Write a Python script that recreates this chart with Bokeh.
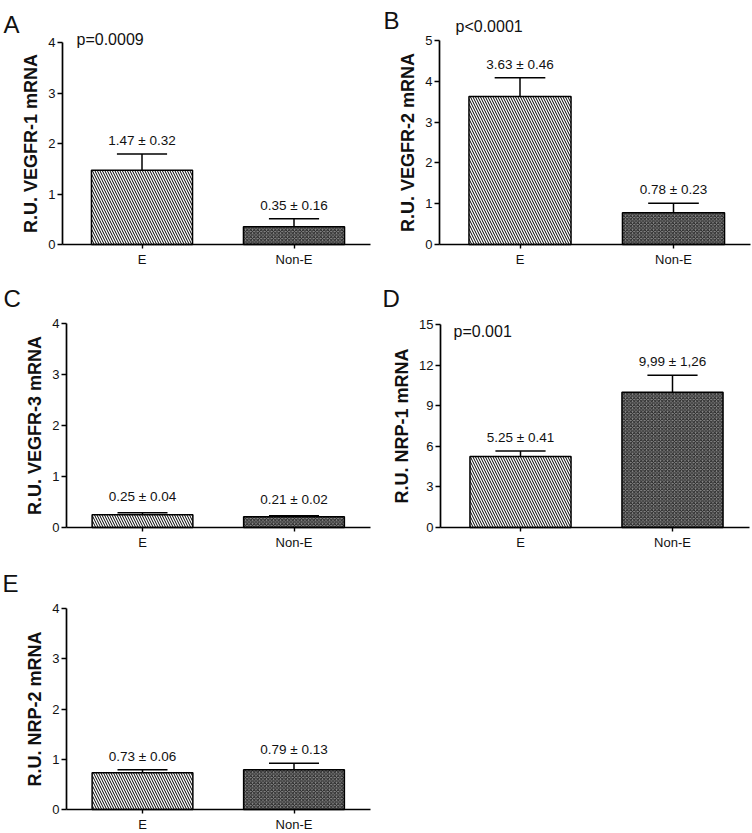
from bokeh.plotting import figure
from bokeh.layouts import gridplot
from bokeh.models import Range1d, FixedTicker
from bokeh.embed import file_html
from bokeh.resources import INLINE
from bokeh.core.properties import value

# ---------------- data ----------------
categories = ["E", "Non-E"]
cat_pos = [1, 2]

panel_letters = ["A", "B", "C", "D", "E"]
y_titles = ["R.U. VEGFR-1 mRNA", "R.U. VEGFR-2 mRNA", "R.U. VEGFR-3 mRNA",
            "R.U. NRP-1 mRNA", "R.U. NRP-2 mRNA"]

vegfr1_mean = [1.47, 0.35]
vegfr1_sem = [0.32, 0.16]
vegfr1_text = ["1.47 ± 0.32", "0.35 ± 0.16"]

vegfr2_mean = [3.63, 0.78]
vegfr2_sem = [0.46, 0.23]
vegfr2_text = ["3.63 ± 0.46", "0.78 ± 0.23"]

vegfr3_mean = [0.25, 0.21]
vegfr3_sem = [0.04, 0.02]
vegfr3_text = ["0.25 ± 0.04", "0.21 ± 0.02"]

nrp1_mean = [5.25, 9.99]
nrp1_sem = [0.41, 1.26]
nrp1_text = ["5.25 ± 0.41", "9,99 ± 1,26"]

nrp2_mean = [0.73, 0.79]
nrp2_sem = [0.06, 0.13]
nrp2_text = ["0.73 ± 0.06", "0.79 ± 0.13"]

p_texts = ["p=0.0009", "p<0.0001", None, "p=0.001", None]
y_max = [4, 5, 4, 15, 4]
y_ticks = [[0, 1, 2, 3, 4], [0, 1, 2, 3, 4, 5], [0, 1, 2, 3, 4],
           [0, 3, 6, 9, 12, 15], [0, 1, 2, 3, 4]]

means = [vegfr1_mean, vegfr2_mean, vegfr3_mean, nrp1_mean, nrp2_mean]
sems = [vegfr1_sem, vegfr2_sem, vegfr3_sem, nrp1_sem, nrp2_sem]
texts = [vegfr1_text, vegfr2_text, vegfr3_text, nrp1_text, nrp2_text]

# ---------------- layout (pixels, figure-local) ----------------
FONT = "Liberation Sans"
# W,H: figure size; ax: y-axis pixel column; c1: centre of first bar;
# u: pixels per category step; xe: end of x-axis line; y0/ytop: pixel rows
# of 0 and of the axis maximum; pt: p-value text (left, middle);
# lt: panel letter (left, baseline); toff: offset of bar annotations
geom = [
    dict(W=380, H=280, ax=62, c1=141.5, u=152.0, xe=370, y0=244, ytop=42,
         pt=(76, 39), lt=(3, 24), toff=-6),
    dict(W=372, H=280, ax=59, c1=139.5, u=153.5, xe=370, y0=244, ytop=40,
         pt=(75, 26), lt=(3, 20), toff=-6),
    dict(W=380, H=280, ax=66, c1=142.0, u=151.5, xe=370, y0=247, ytop=43,
         pt=None, lt=(3, 18), toff=-9),
    dict(W=372, H=280, ax=60, c1=140.0, u=152.0, xe=369, y0=247, ytop=44,
         pt=(73, 51), lt=(2, 18), toff=-6),
    dict(W=380, H=273, ax=66, c1=142.0, u=151.5, xe=370, y0=249, ytop=48,
         pt=None, lt=(2, 23), toff=-6),
]

BAR_W = 0.665
CAP_HALF = 0.165


def make_panel(i):
    g = geom[i]
    ymax = y_max[i]
    x0 = 1 - g["c1"] / g["u"]
    x1 = x0 + g["W"] / g["u"]
    s = (g["y0"] - g["ytop"]) / ymax
    y_start = -(g["H"] - g["y0"]) / s
    y_end = g["y0"] / s

    def dx(px):
        return x0 + px / g["u"]

    def dy(py):
        return (g["y0"] - py) / s

    p = figure(width=g["W"], height=g["H"], output_backend="svg",
               toolbar_location=None, tools="",
               x_range=Range1d(x0, x1), y_range=Range1d(y_start, y_end),
               min_border=0, min_border_left=0, min_border_right=0,
               min_border_top=0, min_border_bottom=0)
    p.outline_line_color = None
    p.xgrid.visible = False
    p.ygrid.visible = False
    p.background_fill_color = "white"
    p.border_fill_color = "white"

    m = means[i]
    e = sems[i]
    tops = [a + b for a, b in zip(m, e)]

    # E bar: diagonal hatch
    p.vbar(x=[cat_pos[0]], top=[m[0]], bottom=0, width=BAR_W,
           fill_color="white", line_color="black", line_width=1.5,
           hatch_pattern="\\", hatch_scale=5.0, hatch_weight=1.0,
           hatch_color="black")
    # Non-E bar: dense cross hatch
    p.vbar(x=[cat_pos[1]], top=[m[1]], bottom=0, width=BAR_W,
           fill_color="#8c8c8c", line_color="black", line_width=1.5,
           hatch_pattern="x", hatch_scale=3.5, hatch_weight=1.0,
           hatch_color="#222222")

    # error bars (upper only)
    p.segment(x0=cat_pos, y0=m, x1=cat_pos, y1=tops,
              line_color="black", line_width=1.5)
    p.segment(x0=[c - CAP_HALF for c in cat_pos], y0=tops,
              x1=[c + CAP_HALF for c in cat_pos], y1=tops,
              line_color="black", line_width=1.5)

    p.text(x=cat_pos, y=tops, text=texts[i], text_align="center",
           text_baseline="bottom", y_offset=g["toff"],
           text_font=value(FONT), text_font_size="13.5px",
           text_color="#111111")

    # axes, fixed inside the frame
    xa = p.xaxis[0]
    ya = p.yaxis[0]
    xa.fixed_location = 0
    xa.bounds = (dx(g["ax"]), dx(g["xe"]))
    ya.fixed_location = dx(g["ax"])
    ya.bounds = (0, ymax)
    xa.ticker = FixedTicker(ticks=cat_pos)
    xa.major_label_overrides = {c: n for c, n in zip(cat_pos, categories)}
    ya.ticker = FixedTicker(ticks=y_ticks[i])
    for ax in (xa, ya):
        ax.axis_line_color = "black"
        ax.axis_line_width = 1.7
        ax.major_tick_line_color = "black"
        ax.major_tick_line_width = 1.4
        ax.minor_tick_line_color = None
        ax.major_tick_in = 0
        ax.major_label_text_font = FONT
        ax.major_label_text_font_size = "13px"
        ax.major_label_text_color = "#111111"
    xa.major_tick_out = 4
    xa.major_label_standoff = 3
    ya.major_tick_out = 5
    ya.major_label_standoff = 2
    ya.axis_label = y_titles[i]
    ya.axis_label_text_font = FONT
    ya.axis_label_text_font_style = "bold"
    ya.axis_label_text_font_size = "18px"
    ya.axis_label_text_color = "#111111"
    ya.axis_label_standoff = 4

    if p_texts[i]:
        px, py = g["pt"]
        p.text(x=[dx(px)], y=[dy(py)], text=[p_texts[i]], text_align="left",
               text_baseline="middle", text_font=value(FONT),
               text_font_size="16px", text_color="#111111")
    lx, ly = g["lt"]
    p.text(x=[dx(lx)], y=[dy(ly)], text=[panel_letters[i]], text_align="left",
           text_baseline="alphabetic", text_font=value(FONT),
           text_font_size="24px", text_color="#111111")
    return p


panels = [make_panel(i) for i in range(5)]
grid = gridplot([[panels[0], panels[1]], [panels[2], panels[3]], [panels[4], None]],
                toolbar_location=None)

open("out.html", "w").write(file_html(grid, INLINE))
